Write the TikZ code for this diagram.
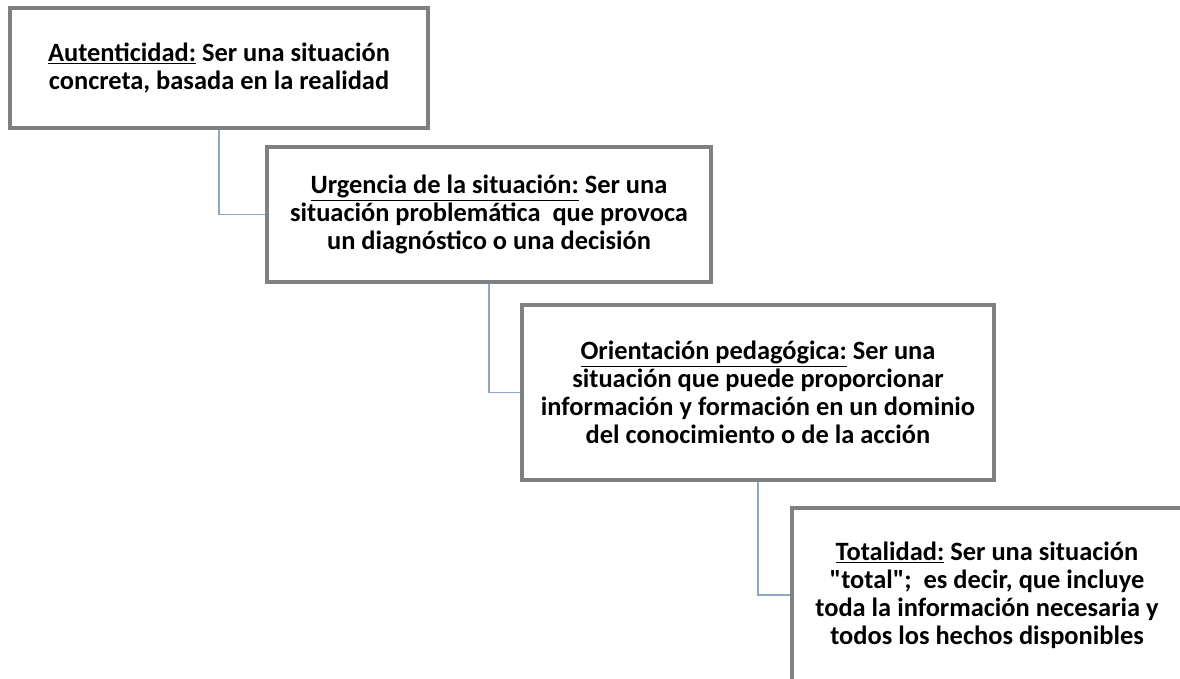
\documentclass[tikz,border=0pt]{standalone}
\usepackage{fontspec}
\setmainfont[Ligatures=TeXOff]{Carlito}
\usepackage{tikz}
\pgfdeclarelayer{edgelayer}
\pgfdeclarelayer{nodelayer}
\pgfsetlayers{edgelayer,nodelayer,main}
\definecolor{boxgray}{RGB}{128,128,128}
\definecolor{linkblue}{RGB}{141,166,196}
\tikzstyle{stage}=[draw=boxgray,line width=2.5pt,fill=white,align=center,inner sep=0pt,font=\fontsize{18.8}{19.9}\selectfont\bfseries]
\tikzstyle{link}=[draw=linkblue,line width=1.1pt]

\begin{document}
\begin{tikzpicture}
	\useasboundingbox (0,0) rectangle (29.5,-16.975);
	\begin{pgfonlayer}{nodelayer}
		\node [style=stage,minimum width=10.45cm,minimum height=3cm] (0) at (5.475, -1.7) {\underline{Autenticidad:} Ser una situación\\concreta, basada en la realidad};
		\node [style=stage,minimum width=11.1cm,minimum height=3.375cm] (1) at (12.225, -5.3625) {\underline{Urgencia de la situación:} Ser una\\situación problemática\ \ que provoca\\un diagnóstico o una decisión};
		\node [style=stage,minimum width=11.8cm,minimum height=4.375cm] (2) at (18.95, -9.8125) {\underline{Orientación pedagógica:} Ser una\\situación que puede proporcionar\\información y formación en un dominio\\del conocimiento o de la acción};
		\node [style=stage,minimum width=9.75cm,minimum height=4.35cm] (3) at (24.675, -14.875) {\underline{Totalidad:} Ser una situación\\"total";\ \ es decir, que incluye\\toda la información necesaria y\\todos los hechos disponibles};
	\end{pgfonlayer}
	\begin{pgfonlayer}{edgelayer}
		\draw [style=link] (0.south) |- (1.west);
		\draw [style=link] (1.south) |- (2.west);
		\draw [style=link] (2.south) |- (3.west);
	\end{pgfonlayer}
\end{tikzpicture}
\end{document}
